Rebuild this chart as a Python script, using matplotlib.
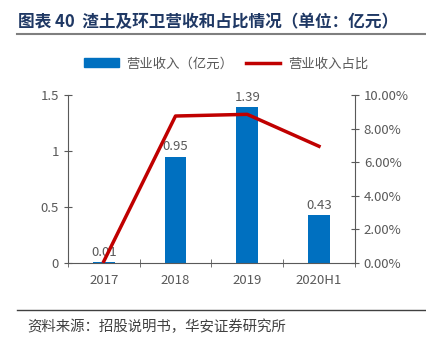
import matplotlib.pyplot as plt
from matplotlib.lines import Line2D
from matplotlib.patches import Patch
from matplotlib.ticker import FuncFormatter

plt.rcParams['font.family'] = ['Noto Sans CJK SC', 'DejaVu Sans']

years = ["2017", "2018", "2019", "2020H1"]
revenue = [0.01, 0.95, 1.39, 0.43]
share = [0.10, 8.75, 8.85, 6.95]

blue = "#0070C0"
red = "#C00000"
grey = "#595959"

fig = plt.figure(figsize=(4.27, 3.43), dpi=100)
ax = fig.add_axes([0.159, 0.233, 0.672, 0.49])
ax2 = ax.twinx()

x = range(len(years))
bars = ax.bar(x, revenue, width=0.3, color=blue, zorder=2)
for xi, v in zip(x, revenue):
    ax.text(xi, v + 0.03, f"{v:.2f}", ha="center", va="bottom", fontsize=9.5, color=grey)

ax2.plot(x, share, color=red, linewidth=2.5)

ax.set_xlim(-0.5, 3.5)
ax.set_ylim(0, 1.5)
ax.set_yticks([0, 0.5, 1, 1.5])
ax.set_yticklabels(["0", "0.5", "1", "1.5"])
ax2.set_ylim(0, 10)
ax2.set_yticks([0, 2, 4, 6, 8, 10])
ax2.yaxis.set_major_formatter(FuncFormatter(lambda v, p: f"{v:.2f}%"))
ax.set_xticks(list(x))
ax.set_xticklabels(years)
ax.set_xticks([-0.5, 0.5, 1.5, 2.5, 3.5], minor=True)
ax.tick_params(axis="x", which="major", length=0, pad=8)
ax.tick_params(axis="x", which="minor", length=6, direction="inout", color=grey)

for a in (ax, ax2):
    a.spines["top"].set_visible(False)
    for s in ("left", "right", "bottom"):
        a.spines[s].set_color(grey)
    a.tick_params(axis="y", direction="inout", length=6, color=grey, labelcolor=grey, labelsize=9.5)
    a.tick_params(axis="x", labelcolor=grey, labelsize=9.5)
ax2.spines["left"].set_visible(False)
ax2.spines["bottom"].set_visible(False)
ax.spines["right"].set_visible(False)

handles = [Patch(color=blue), Line2D([0], [0], color=red, linewidth=2.5)]
fig.legend(handles, ["营业收入（亿元）", "营业收入占比"], loc="center", bbox_to_anchor=(0.53, 0.815),
           ncol=2, frameon=False, fontsize=9.6, labelcolor=grey, handlelength=2.6,
           handletextpad=0.6, columnspacing=0.9)

fig.text(0.042, 0.935, "图表 40  渣土及环卫营收和占比情况（单位：亿元）", fontsize=12,
         fontweight="bold", color="#1F3864", va="center")
fig.add_artist(Line2D([0.04, 1.0], [0.902, 0.902], color="#7F7F7F", linewidth=1.5))
fig.add_artist(Line2D([0.04, 1.0], [0.097, 0.097], color="#404040", linewidth=1.0))
fig.text(0.063, 0.048, "资料来源：招股说明书，华安证券研究所", fontsize=10.4, color="#404040", va="center")

fig.savefig("out.png", dpi=100)
